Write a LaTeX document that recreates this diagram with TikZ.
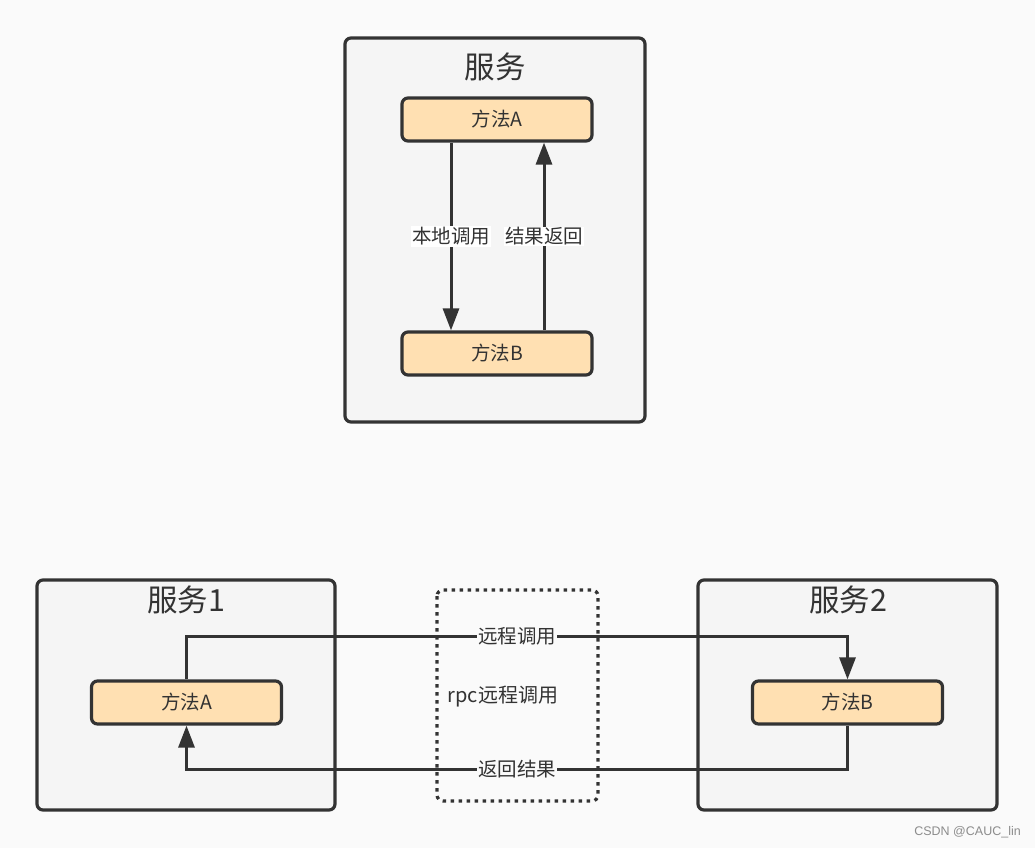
\documentclass[tikz,border=0pt]{standalone}
\usepackage{fontspec}
\setmainfont{Noto Sans CJK SC}
\newfontfamily\wmfont{Liberation Sans}
\usetikzlibrary{arrows.meta}
\definecolor{pagebg}{HTML}{FAFAFA}
\definecolor{boxbg}{HTML}{F5F5F5}
\definecolor{ink}{HTML}{333333}
\definecolor{methodbg}{HTML}{FFE0B2}
\begin{document}
\begin{tikzpicture}[x=1pt,y=-1pt,
  svc/.style={draw=ink,line width=3.2pt,fill=boxbg,rounded corners=6pt},
  method/.style={draw=ink,line width=3.2pt,fill=methodbg,rounded corners=6pt,
    minimum width=190pt,minimum height=43pt,inner sep=0pt,text=ink,font=\fontsize{19.5}{23}\selectfont},
  title/.style={text=ink,font=\fontsize{30.5}{34}\selectfont,inner sep=0pt},
  arr/.style={draw=ink,line width=3pt,-{Triangle[width=16pt,length=22pt]}},
  lbl/.style={fill=#1,text=ink,font=\fontsize{19.5}{23}\selectfont,inner sep=1pt},
  lbl/.default=white,
  rpcbox/.style={draw=ink,line width=3.2pt,dash pattern=on 3.5pt off 4.5pt,rounded corners=6pt}]
\fill[pagebg] (0,0) rectangle (1035,848);
\useasboundingbox (0,0) rectangle (1035,848);
% top service
\draw[svc] (345,38) rectangle (645,422);
\node[title] (t0) at (495,67) {服务};
\node[method] (ma) at (497,119.5) {方法A};
\node[method] (mb) at (497,353.5) {方法B};
\draw[arr] (ma.south -| 451,0) -- node[lbl] {本地调用} (mb.north -| 451,0);
\draw[arr] (mb.north -| 544,0) -- node[lbl] {结果返回} (ma.south -| 544,0);
% bottom services
\draw[svc] (37,580) rectangle (335,810);
\node[title] (t1) at (186,600) {服务1};
\draw[svc] (698,580) rectangle (997,810);
\node[title] (t2) at (848,600) {服务2};
\node[method] (a1) at (186.5,702.5) {方法A};
\node[method] (b2) at (847.5,702.5) {方法B};
\draw[rpcbox] (437,590) rectangle (598,801);
\node[text=ink,font=\fontsize{20}{24}\selectfont] (rpc) at (503,697) {rpc远程调用};
\coordinate (c1) at (0,636);
\coordinate (c2) at (0,769);
\draw[arr] (a1.north) -- (a1.north |- c1) -- node[lbl=pagebg] {远程调用} (b2.north |- c1) -- (b2.north);
\draw[arr] (b2.south) -- (b2.south |- c2) -- node[lbl=pagebg] {返回结果} (a1.south |- c2) -- (a1.south);
\node[text=black!45,font=\fontsize{12.5}{15}\wmfont,anchor=east,inner sep=0pt] (wm) at (1021,832) {CSDN @CAUC\_lin};
\end{tikzpicture}
\end{document}
